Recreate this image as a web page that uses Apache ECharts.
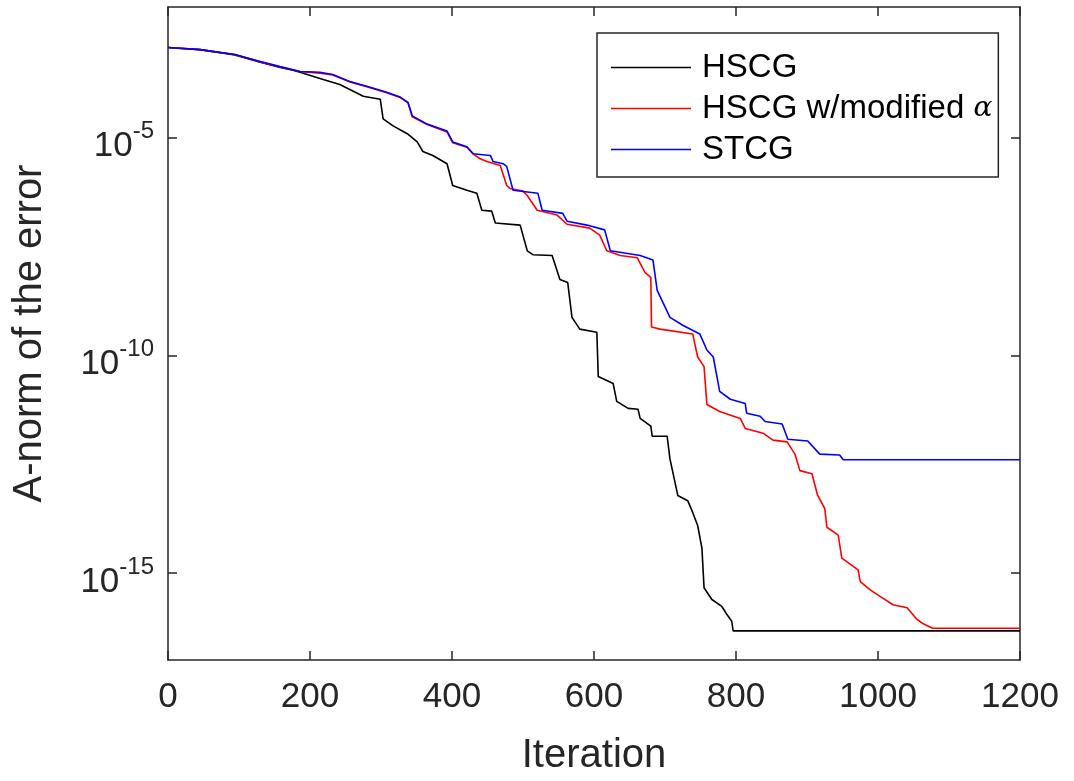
<!DOCTYPE html>
<html>
<head>
<meta charset="utf-8">
<script src="https://cdn.jsdelivr.net/npm/echarts@6/dist/echarts.min.js"></script>
<style>
html,body{margin:0;padding:0;background:#fff;overflow:hidden;}
#chart{width:1074px;height:781px;}
</style>
</head>
<body>
<div id="chart"></div>
<script>
// x values: iteration; y values: log10 of the A-norm of the error
const seriesNames = ['HSCG', 'HSCG w/modified α', 'STCG'];
const xTicks = [0, 200, 400, 600, 800, 1000, 1200];
const yTickExponents = [-15, -10, -5];

const hscgIter = [0,45,62,94,130,158,176,186,214,242,275,299,303,317,337,351,359,373,393,401,421,435,442,456,461,496,506,514,541,552,563,569,580,604,606,627,632,648,662,665,680,682,703,707,718,732,739,746,752,755,766,780,787,794,796,1200];
const hscgExp = [-2.93,-2.98,-3.02,-3.10,-3.27,-3.39,-3.45,-3.50,-3.64,-3.78,-4.05,-4.12,-4.57,-4.73,-4.91,-5.10,-5.32,-5.41,-5.60,-6.10,-6.21,-6.28,-6.67,-6.69,-6.96,-7.01,-7.60,-7.69,-7.71,-8.26,-8.33,-9.13,-9.40,-9.47,-10.49,-10.65,-11.06,-11.22,-11.24,-11.45,-11.63,-11.86,-11.86,-12.38,-13.22,-13.34,-13.61,-13.91,-14.43,-15.34,-15.61,-15.77,-15.95,-16.11,-16.33,-16.33];

const hscgModIter = [0,45,62,94,130,158,186,214,232,256,280,308,327,338,344,365,393,401,421,430,439,449,468,477,482,500,506,520,548,562,594,608,618,637,661,672,680,681,693,739,746,755,759,777,806,813,838,852,872,883,890,907,915,925,928,944,949,972,975,989,1003,1021,1041,1055,1063,1077,1200];
const hscgModExp = [-2.93,-2.98,-3.02,-3.09,-3.26,-3.38,-3.48,-3.52,-3.56,-3.72,-3.83,-3.97,-4.08,-4.20,-4.52,-4.70,-4.87,-5.12,-5.22,-5.38,-5.48,-5.55,-5.64,-6.10,-6.17,-6.23,-6.33,-6.67,-6.78,-6.99,-7.08,-7.24,-7.60,-7.71,-7.76,-8.10,-8.21,-9.35,-9.40,-9.51,-10.04,-10.26,-11.13,-11.29,-11.45,-11.68,-11.79,-11.95,-11.99,-12.27,-12.65,-12.72,-13.22,-13.52,-13.95,-14.13,-14.66,-14.93,-15.20,-15.39,-15.54,-15.73,-15.80,-16.07,-16.16,-16.27,-16.27];

const stcgIter = [0,45,62,94,130,158,186,214,232,256,280,308,327,338,344,365,393,401,421,430,454,458,472,477,486,521,527,556,562,590,615,623,665,683,689,707,725,749,759,768,777,792,813,815,834,841,865,873,901,918,946,951,1200];
const stcgExp = [-2.93,-2.98,-3.02,-3.09,-3.25,-3.37,-3.48,-3.50,-3.55,-3.71,-3.82,-3.96,-4.07,-4.19,-4.50,-4.69,-4.85,-5.10,-5.21,-5.37,-5.41,-5.55,-5.60,-5.66,-6.21,-6.28,-6.67,-6.74,-6.92,-7.01,-7.12,-7.60,-7.71,-7.81,-8.51,-9.13,-9.31,-9.51,-9.88,-10.04,-10.83,-11.01,-11.11,-11.33,-11.40,-11.52,-11.58,-11.93,-11.97,-12.27,-12.29,-12.40,-12.40];

const pair = (xs, ys) => xs.map((x, i) => [x, ys[i]]);
const axisColor = '#262626';
const font = 'Liberation Sans, Arial, Helvetica, sans-serif';

const chart = echarts.init(document.getElementById('chart'), null, {renderer: 'canvas', width: 1074, height: 781});

const lineSeries = (name, data, color, z) => ({
  name: name,
  type: 'line',
  data: data,
  xAxisIndex: 0,
  yAxisIndex: 0,
  showSymbol: false,
  symbol: 'none',
  smooth: false,
  z: z,
  lineStyle: {color: color, width: 1.6},
  itemStyle: {color: color},
  emphasis: {disabled: true}
});

chart.setOption({
  animation: false,
  backgroundColor: '#ffffff',
  grid: {left: 168, top: 7, right: 54, bottom: 115, containLabel: false},
  legend: {
    orient: 'vertical',
    left: 597,
    top: 33,
    padding: [18, 6, 11, 14],
    itemGap: 8,
    itemWidth: 80,
    itemHeight: 1.6,
    icon: 'rect',
    borderColor: axisColor,
    borderWidth: 1.5,
    backgroundColor: '#ffffff',
    data: seriesNames,
    formatter: function (name) {
      if (name === seriesNames[1]) return '{n|HSCG w/modified }{a|α}';
      return '{n|' + name + '}';
    },
    textStyle: {
      color: '#000',
      fontFamily: font,
      fontSize: 33,
      padding: [0, 0, 0, 6],
      rich: {
        n: {fontFamily: font, fontSize: 33, color: '#000'},
        a: {fontFamily: 'DejaVu Serif, Liberation Serif, serif', fontStyle: 'italic', fontSize: 28, color: '#000'}
      }
    }
  },
  xAxis: [{
    type: 'value',
    position: 'bottom',
    min: xTicks[0],
    max: xTicks[xTicks.length - 1],
    interval: xTicks[1] - xTicks[0],
    name: 'Iteration',
    nameLocation: 'middle',
    nameGap: 76,
    nameTextStyle: {fontFamily: font, fontSize: 40, color: axisColor},
    axisLine: {show: true, onZero: false, lineStyle: {color: axisColor, width: 1.5}},
    axisTick: {show: true, inside: true, length: 9, lineStyle: {color: axisColor, width: 1.5}},
    axisLabel: {show: true, margin: 20, fontFamily: font, fontSize: 35, color: axisColor,
      formatter: function (v) { return String(v); }},
    splitLine: {show: false}
  }, {
    type: 'value',
    position: 'top',
    min: xTicks[0],
    max: xTicks[xTicks.length - 1],
    interval: xTicks[1] - xTicks[0],
    axisLine: {show: true, onZero: false, lineStyle: {color: axisColor, width: 1.5}},
    axisTick: {show: true, inside: true, length: 9, lineStyle: {color: axisColor, width: 1.5}},
    axisLabel: {show: false},
    splitLine: {show: false}
  }],
  yAxis: [{
    type: 'value',
    position: 'left',
    min: -17,
    max: -2,
    name: 'A-norm of the error',
    nameLocation: 'middle',
    nameGap: 118,
    nameRotate: 90,
    nameTextStyle: {fontFamily: font, fontSize: 40, color: axisColor},
    axisLine: {show: true, onZero: false, lineStyle: {color: axisColor, width: 1.5}},
    axisTick: {show: true, inside: true, length: 9, customValues: yTickExponents, lineStyle: {color: axisColor, width: 1.5}},
    axisLabel: {
      show: true,
      margin: 14,
      customValues: yTickExponents,
      formatter: function (v) { return '{b|10}{s|' + v + '}'; },
      rich: {
        b: {fontFamily: font, fontSize: 35, color: axisColor, padding: [18, 0, 0, 0]},
        s: {fontFamily: font, fontSize: 24, color: axisColor, padding: [0, 0, 12, 0]}
      }
    },
    splitLine: {show: false}
  }, {
    type: 'value',
    position: 'right',
    min: -17,
    max: -2,
    axisLine: {show: true, onZero: false, lineStyle: {color: axisColor, width: 1.5}},
    axisTick: {show: true, inside: true, length: 9, customValues: yTickExponents, lineStyle: {color: axisColor, width: 1.5}},
    axisLabel: {show: false},
    splitLine: {show: false}
  }],
  series: [
    lineSeries(seriesNames[0], pair(hscgIter, hscgExp), '#000000', 3),
    lineSeries(seriesNames[1], pair(hscgModIter, hscgModExp), '#ff0000', 4),
    lineSeries(seriesNames[2], pair(stcgIter, stcgExp), '#0000ff', 5)
  ]
});
</script>
</body>
</html>
